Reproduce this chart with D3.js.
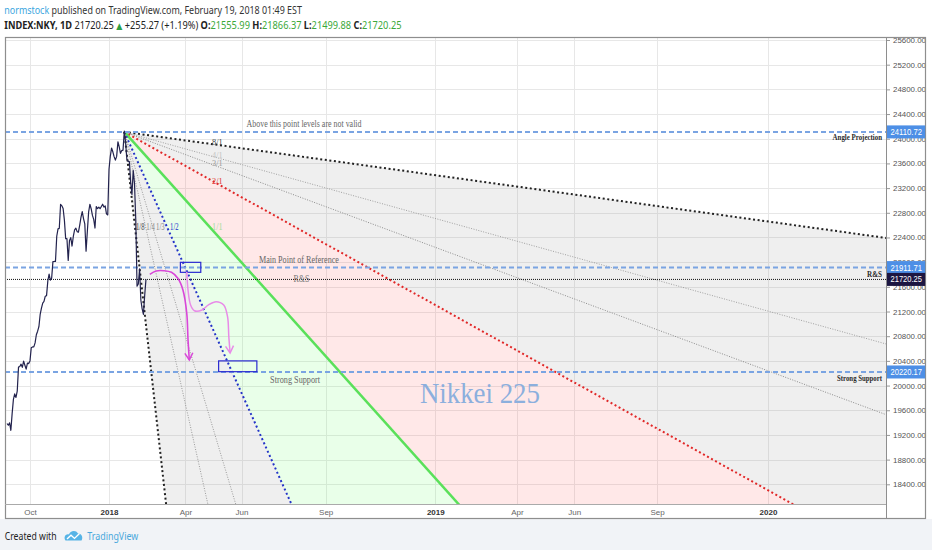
<!DOCTYPE html>
<html>
<head>
<meta charset="utf-8">
<script src="https://cdn.jsdelivr.net/npm/d3@7/dist/d3.min.js"></script>
<style>html,body{margin:0;padding:0;background:#fff}svg{display:block}</style>
</head>
<body>
<svg id="chart" width="932" height="550"></svg>
<script>
// ---------------- DATA ----------------
const firstTradingDay = "2017-09-05";
const marketHolidays = ["2017-09-18","2017-10-09","2017-11-03","2017-11-23","2018-01-01","2018-01-02","2018-01-03","2018-01-08","2018-02-12"];
// daily closes, one per trading day from firstTradingDay to 2018-02-16
const closes = [
  19385,19357,19396,19275,19545,19776,19865,19807,19909,20299,20310,20347,20296,20397,20330,20267,20363,20356,
  20400,20614,20626,20628,20691,20823,20881,20954,21155,21255,21336,21363,21448,21457,21697,21805,21707,21739,22008,22011,22011,
  22420,22539,22548,22937,22913,22869,22681,22381,22380,22028,22351,22397,22261,22417,22523,22550,22495,22486,22597,22725,
  22819,22707,22622,22177,22498,22811,22938,22866,22758,22694,22553,22901,22868,22891,22866,22902,22939,22892,22911,22783,22765,
  23506,23714,23849,23788,23710,23653,23714,23951,23868,23763,23808,23816,24124,23940,23669,23631,23629,23291,23098,
  23486,23274,22682,21610,21645,21891,21382,21244,21154,21464,21720.25
];
const yTicks = [18400,18800,19200,19600,20000,20400,20800,21200,21600,22000,22400,22800,23200,23600,24000,24400,24800,25200,25600];
const xTickDates = ["2017-10-01","2018-01-01","2018-04-01","2018-06-01","2018-09-01","2019-01-01","2019-04-01","2019-06-01","2019-09-01","2020-01-01"];
const xTickLabels = ["Oct","2018","Apr","Jun","Sep","2019","Apr","Jun","Sep","2020"];

const levelValues = [24110.72, 21911.71, 20220.17];
const levelCenterText = ["Above this point levels are not valid","Main Point of Reference","Strong Support"];
const levelCenterDates = ["2018-08-09","2018-08-03","2018-07-31"];
const levelRightText = ["Angle Projection","R&S","Strong Support"];
const lastPrice = 21720.25;
const lastPriceText = "R&S";
const lastPriceTextDate = "2018-08-07";

const fanOriginDate = "2018-01-23";
const fanOriginValue = 24110.72;
const fanUnit = 23.0;      // points per bar for the 1/1 line
const fanBoxBars = 73;     // width of the fan's defining box, in bars
const fanRatios = ["8/1","4/1","3/1","2/1","1/1","1/2","1/3","1/4","1/8"];

const boxStart = ["2018-03-27","2018-05-08"];
const boxEnd   = ["2018-04-18","2018-06-19"];
const boxHigh  = [21997, 20400];
const boxLow   = [21835, 20225];

const arrow1Dates  = ["2018-02-21","2018-02-28","2018-03-08","2018-03-16","2018-03-23","2018-03-29","2018-04-03","2018-04-04","2018-04-05"];
const arrow1Values = [21803,21857,21861,21835,21738,21549,21171,20738,20414];
const arrow2Dates  = ["2018-04-03","2018-04-04","2018-04-06","2018-04-11","2018-04-19","2018-04-26","2018-05-04","2018-05-14","2018-05-17","2018-05-18","2018-05-21"];
const arrow2Values = [21845,21549,21306,21213,21225,21306,21359,21306,21116,20792,20528];

const watermark = "Nikkei 225";
const watermarkDate = "2019-02-19";
const watermarkValue = 19717;

const author = "normstock";
const publishedText = " published on TradingView.com, February 19, 2018 01:49 EST";
const symbolText = "INDEX:NKY, 1D";
const ohlcKeys = ["O","H","L","C"];
const ohlcValues = [21555.99, 21866.37, 21499.88, 21720.25];
const changeValue = 255.27, changePct = 1.19;

// ---------------- LAYOUT / STYLE ----------------
const W = 932, H = 550;
const PL = 5, PR = 886, PT = 37, PB = 504, FR = 926, FB = 519;
const SANS = "'Noto Sans','Liberation Sans',sans-serif";
const AX = "'Liberation Sans',Arial,sans-serif";
const SERIF = "'Liberation Serif','Times New Roman',serif";
const fanStyle = {
  "8/1":{c:"#222",w:2,d:"2,2.6",lc:"#444",dx:0},
  "4/1":{c:"#a0a0a0",w:1,d:"1,1.5",lc:"#c4c4c4",dx:0},
  "3/1":{c:"#8c8c8c",w:1,d:"1,1.5",lc:"#999",dx:0},
  "2/1":{c:"#e02828",w:2,d:"2,2.6",lc:"#e03030",dx:0},
  "1/1":{c:"#5ae05a",w:2.5,d:null,lc:"#a8dca0",dx:0},
  "1/2":{c:"#2433c8",w:2,d:"2,2.6",lc:"#2233cc",dx:3.5},
  "1/3":{c:"#999",w:1,d:"1,1.5",lc:"#888",dx:5},
  "1/4":{c:"#999",w:1,d:"1,1.5",lc:"#888",dx:3},
  "1/8":{c:"#222",w:2,d:"2,2.6",lc:"#444",dx:4.3}
};
const fillGray = "rgba(128,128,128,0.13)", fillRed = "rgba(255,80,80,0.13)", fillGreen = "rgba(70,255,70,0.12)";
const fanFills = [fillGray,fillGray,fillGray,fillRed,fillGreen,fillGray,fillGray,fillGray];

// ---------------- BAR-INDEX TIME SCALE ----------------
const parse = d3.utcParse("%Y-%m-%d"), fmtD = d3.utcFormat("%Y-%m-%d");
const holidaySet = new Set(marketHolidays);
const histDates = [];
for (let d = parse(firstTradingDay); histDates.length < closes.length; d = d3.utcDay.offset(d, 1)) {
  const wd = d.getUTCDay();
  if (wd !== 0 && wd !== 6 && !holidaySet.has(fmtD(d))) histDates.push(d);
}
const nH = histDates.length, lastDate = histDates[nH - 1];
function bar(str) {
  const dt = parse(str);
  if (dt <= lastDate) return d3.bisectLeft(histDates, dt) - (nH - 1);
  const days = d3.utcDays(d3.utcDay.offset(lastDate, 1), dt).filter(d => d.getUTCDay() !== 0 && d.getUTCDay() !== 6);
  return days.length + 1;
}

const x = d3.scaleLinear().domain([-110.6, 580.6]).range([PL, PR]);
const y = d3.scaleLinear().domain([18400, 25600]).range([484.3, 40]);

// ---------------- DRAW ----------------
const svg = d3.select("#chart");
svg.append("rect").attr("width", W).attr("height", H).attr("fill", "#fff");
svg.append("rect").attr("x", 0).attr("y", FB).attr("width", W).attr("height", H - FB).attr("fill", "#f1f3f7");

const defs = svg.append("defs");
defs.append("clipPath").attr("id", "plot").append("rect").attr("x", PL).attr("y", PT).attr("width", PR - PL).attr("height", PB - PT);
function marker(id, color) {
  defs.append("marker").attr("id", id).attr("viewBox", "-9 -6 11 12").attr("refX", 0).attr("refY", 0)
    .attr("markerWidth", 11).attr("markerHeight", 12).attr("markerUnits", "userSpaceOnUse").attr("orient", "auto")
    .append("path").attr("d", "M-7,-4L0,0L-7,4").attr("fill", "none").attr("stroke", color).attr("stroke-width", 1.5);
}
marker("m1", "#d946d9"); marker("m2", "#e88be8");

function label(g, str, px, py, o) {
  const t = g.append("text").attr("font-family", o.family).attr("font-size", o.size)
    .attr("font-weight", o.weight || "normal").attr("fill", o.fill).attr("text-anchor", o.anchor || "start").text(str);
  const L = t.node().getComputedTextLength();
  const k = o.width ? o.width / L : (o.k || 1);
  t.attr("transform", `translate(${px},${py}) scale(${k},1)`);
  return t;
}

// grid
const tickBars = xTickDates.map(bar);
const grid = svg.append("g").attr("stroke", "#e7e7e7").attr("stroke-width", 1);
grid.selectAll(".gx").data(tickBars).join("line").attr("x1", d => Math.round(x(d)) + 0.5).attr("x2", d => Math.round(x(d)) + 0.5).attr("y1", PT).attr("y2", PB);
grid.selectAll(".gy").data(yTicks).join("line").attr("y1", d => Math.round(y(d)) + 0.5).attr("y2", d => Math.round(y(d)) + 0.5).attr("x1", PL).attr("x2", PR);

const plot = svg.append("g").attr("clip-path", "url(#plot)");

// Gann fan
const oB = bar(fanOriginDate), oV = fanOriginValue;
const slope = r => { const [a, b] = r.split("/").map(Number); return fanUnit * b / a; };
const FAR = 900;
const endPt = r => [x(oB + FAR), y(oV - slope(r) * FAR)];
const org = [x(oB), y(oV)];
const fillG = plot.append("g");
d3.pairs(fanRatios).forEach(([r1, r2], i) => {
  fillG.append("path").attr("d", d3.line()([org, endPt(r1), endPt(r2)]) + "Z").attr("fill", fanFills[i]);
});
const lineG = plot.append("g");
fanRatios.forEach(r => {
  const s = fanStyle[r];
  const p = lineG.append("path").attr("d", d3.line()([org, endPt(r)])).attr("fill", "none")
    .attr("stroke", s.c).attr("stroke-width", s.w);
  if (s.d) p.attr("stroke-dasharray", s.d);
});

// horizontal levels
levelValues.forEach(v => {
  plot.append("line").attr("x1", PL).attr("x2", PR).attr("y1", y(v)).attr("y2", y(v))
    .attr("stroke", "#7aa4e2").attr("stroke-width", 2).attr("stroke-dasharray", "5,3");
});
plot.append("line").attr("x1", PL).attr("x2", PR).attr("y1", y(lastPrice)).attr("y2", y(lastPrice))
  .attr("stroke", "#111").attr("stroke-width", 1).attr("stroke-dasharray", "1,1");

// price line
const histBars = histDates.map((d, i) => i - (nH - 1));
plot.append("path").datum(closes).attr("fill", "none").attr("stroke", "#23234e").attr("stroke-width", 1.2)
  .attr("stroke-linejoin", "round")
  .attr("d", d3.line().x((d, i) => x(histBars[i])).y(d => y(d)));

// rectangles
boxStart.forEach((s, i) => {
  const x0 = x(bar(s)), x1 = x(bar(boxEnd[i]));
  plot.append("rect").attr("x", x0).attr("y", y(boxHigh[i])).attr("width", x1 - x0).attr("height", y(boxLow[i]) - y(boxHigh[i]))
    .attr("fill", "none").attr("stroke", "#2a2ad0").attr("stroke-width", 1.2);
});

// arrows
const curve = d3.line().x(d => x(bar(d[0]))).y(d => y(d[1])).curve(d3.curveCatmullRom.alpha(0.5));
plot.append("path").attr("d", curve(arrow2Dates.map((d, i) => [d, arrow2Values[i]])))
  .attr("fill", "none").attr("stroke", "#e88be8").attr("stroke-width", 1.5).attr("marker-end", "url(#m2)");
plot.append("path").attr("d", curve(arrow1Dates.map((d, i) => [d, arrow1Values[i]])))
  .attr("fill", "none").attr("stroke", "#d946d9").attr("stroke-width", 1.6).attr("marker-end", "url(#m1)");

// fan labels
const labG = svg.append("g");
fanRatios.forEach(r => {
  const [a, b] = r.split("/").map(Number);
  const s = fanStyle[r];
  if (a > b) {
    label(labG, r, x(oB + fanBoxBars), y(oV - fanUnit * fanBoxBars * b / a), {family: SERIF, size: 8.6, fill: s.lc, anchor: "middle", width: 10.6});
  } else {
    label(labG, r, x(oB + fanBoxBars * a / b) + s.dx, y(oV - fanUnit * fanBoxBars) - 5.5,
      {family: SERIF, size: 10, fill: s.lc, anchor: "middle", width: a === b ? 10.6 : 8.6});
  }
});

// level texts
const centerOffsets = [-4.5, -4.5, 11.5];
const centerWidths = [115, 80, 50];
levelValues.forEach((v, i) => {
  label(labG, levelCenterText[i], x(bar(levelCenterDates[i])), y(v) + centerOffsets[i],
    {family: SERIF, size: 9.5, fill: "#666", anchor: "middle", width: centerWidths[i]});
});
label(labG, lastPriceText, x(bar(lastPriceTextDate)), y(lastPrice) + 3, {family: SERIF, size: 9.5, fill: "#777", anchor: "middle", width: 16});
const rightOffsets = [8.5, 9, 9];
const rightWidths = [49.5, 15, 45];
levelValues.forEach((v, i) => {
  label(labG, levelRightText[i], PR - 4, y(v) + rightOffsets[i],
    {family: SERIF, size: 9, weight: "bold", fill: "#2a2a2a", anchor: "end", width: rightWidths[i]});
});

// watermark
label(labG, watermark, x(bar(watermarkDate)), y(watermarkValue), {family: SERIF, size: 29, fill: "#8cafdd", anchor: "middle", width: 120});

// axes
const yAxis = svg.append("g").attr("transform", `translate(${PR},0)`)
  .call(d3.axisRight(y).tickValues(yTicks).tickFormat(d3.format(".2f")).tickSize(4).tickPadding(3));
yAxis.select(".domain").remove();
yAxis.selectAll("line").attr("stroke", "#999");
yAxis.selectAll("text").attr("font-family", AX).attr("font-size", 7.9).attr("fill", "#555");

const xAxis = svg.append("g").attr("transform", `translate(0,${PB})`)
  .call(d3.axisBottom(x).tickValues(tickBars).tickFormat((d, i) => xTickLabels[i]).tickSize(0).tickPadding(5));
xAxis.select(".domain").remove();
xAxis.selectAll("text").attr("font-family", AX).attr("font-size", 8)
  .attr("font-weight", (d, i) => /^\d{4}$/.test(xTickLabels[i]) ? "bold" : "normal")
  .attr("fill", (d, i) => /^\d{4}$/.test(xTickLabels[i]) ? "#333" : "#666");

// frame lines
const fr = svg.append("g").attr("stroke", "#8e8e8e").attr("fill", "none");
fr.append("rect").attr("x", PL + 0.5).attr("y", PT + 0.5).attr("width", FR - PL - 1).attr("height", FB - PT - 1).attr("stroke-width", 1.2);
fr.append("line").attr("x1", PR + 0.5).attr("x2", PR + 0.5).attr("y1", PT).attr("y2", FB);
fr.append("line").attr("x1", PL).attr("x2", PR).attr("y1", PB + 0.5).attr("y2", PB + 0.5).attr("stroke", "#aaa");

// axis highlight labels
const hl = svg.append("g");
const hlVals = [levelValues[0], levelValues[1], lastPrice, levelValues[2]];
const hlCols = ["#4d8fe6", "#4d8fe6", "#1c1642", "#4d8fe6"];
hlVals.forEach((v, i) => {
  hl.append("rect").attr("x", PR + 1).attr("y", y(v) - 6.5).attr("width", FR - PR - 1.8).attr("height", 13).attr("fill", hlCols[i]);
  label(hl, d3.format(".2f")(v), PR + 4.5, y(v) + 3, {family: AX, size: 8.6, fill: "#fff", width: 31.5});
});

// header
const hdr = svg.append("g");
const h1 = hdr.append("text").attr("font-family", SANS).attr("font-size", 10.5).attr("fill", "#333");
h1.append("tspan").attr("fill", "#3ba6e0").text(author);
h1.append("tspan").text(publishedText);
h1.attr("transform", `translate(4.3,14) scale(${298 / h1.node().getComputedTextLength()},1)`);

const green = "#3aa83a";
const h2 = hdr.append("text").attr("font-family", SANS).attr("font-size", 10.5).attr("fill", "#222");
h2.append("tspan").attr("font-weight", "bold").text(symbolText);
h2.append("tspan").text("  " + d3.format(".2f")(lastPrice) + " ");
h2.append("tspan").attr("fill", "#2ea043").attr("font-family", "'DejaVu Sans',sans-serif").attr("font-size", 9).text("▲");
h2.append("tspan").text(" +" + d3.format(".2f")(changeValue) + " (+" + d3.format(".2f")(changePct) + "%) ");
ohlcKeys.forEach((k, i) => {
  h2.append("tspan").attr("font-weight", "bold").text((i ? " " : "") + k + ":");
  h2.append("tspan").attr("fill", green).text(d3.format(".2f")(ohlcValues[i]));
});
h2.attr("transform", `translate(4.3,28.5) scale(${398 / h2.node().getComputedTextLength()},1)`);

// footer
const ft = svg.append("g");
label(ft, "Created with", 4.7, 539.5, {family: SANS, size: 11, fill: "#222", width: 52});
ft.append("path").attr("d", "M65.5,540.5 C63.5,538 65,533.5 69,534.5 C70,530.5 76,529.5 78,533.5 C81.5,533 83.5,537.5 81.5,540.5 Z").attr("fill", "#56b3e6");
ft.append("path").attr("d", "M67,539 L71,535.2 L74.5,538.4 L79.5,533.5").attr("fill", "none").attr("stroke", "#fff").attr("stroke-width", 1.4);
label(ft, "TradingView", 87.3, 539.5, {family: SANS, size: 11, fill: "#4aa8dc", width: 51});
</script>
</body>
</html>
